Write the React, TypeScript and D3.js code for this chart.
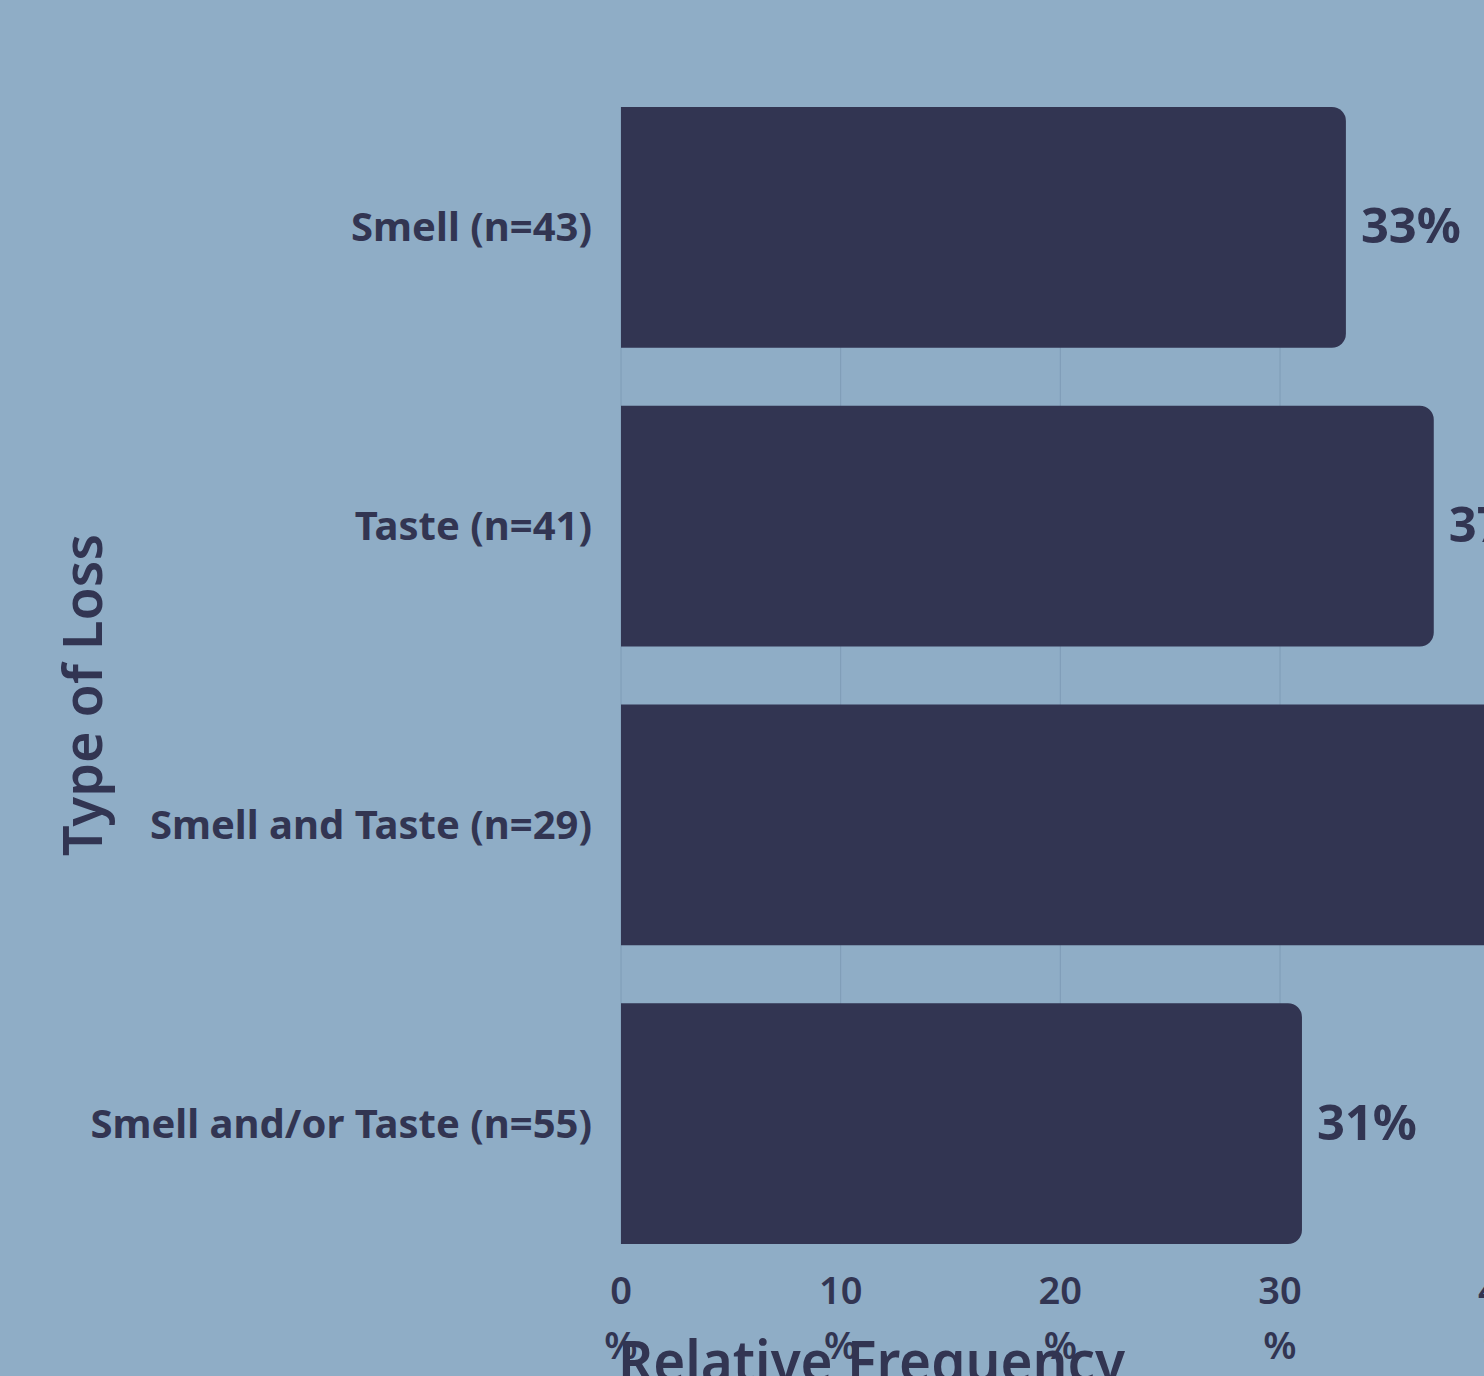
import React from "react";
import * as d3 from "d3";

const categories = ["Smell (n=43)", "Taste (n=41)", "Smell and Taste (n=29)", "Smell and/or Taste (n=55)"];
const values = [33, 37, 45, 31];
const tickValues = [0, 10, 20, 30, 40];
const xAxisTitle = "Relative Frequency";
const yAxisTitle = "Type of Loss";

const W = 1484;
const H = 1376;
const BG = "#8fadc6";
const DARK = "#323552";
const GRID = "#7f9cb6";
const FONT = "'Noto Sans', 'Open Sans', sans-serif";

function barPath(x0: number, x1: number, y0: number, h: number, r: number) {
  const p = d3.path();
  const rr = Math.min(r, (x1 - x0) / 2, h / 2);
  p.moveTo(x0, y0);
  p.lineTo(x1 - rr, y0);
  p.arcTo(x1, y0, x1, y0 + rr, rr);
  p.lineTo(x1, y0 + h - rr);
  p.arcTo(x1, y0 + h, x1 - rr, y0 + h, rr);
  p.lineTo(x0, y0 + h);
  p.closePath();
  return p.toString();
}

export default function App() {
  const x = d3.scaleLinear().domain([0, 30]).range([621, 1280]);
  const y = d3
    .scaleBand<string>()
    .domain(categories)
    .range([78, 1273])
    .paddingInner(0.194)
    .paddingOuter(0.097);
  const bw = y.bandwidth();
  const gridTop = y(categories[0])!;
  const gridBottom = y(categories[categories.length - 1])! + bw;

  return (
    <svg
      width={W}
      height={H}
      style={{ position: "absolute", left: 0, top: 0, display: "block" }}
      fontFamily={FONT}
    >
      <rect x={0} y={0} width={W} height={H} fill={BG} />
      {tickValues.map((t) => (
        <line key={"g" + t} x1={x(t)} x2={x(t)} y1={gridTop} y2={gridBottom} stroke={GRID} strokeWidth={1} />
      ))}
      {categories.map((c, i) => (
        <g key={c}>
          <path d={barPath(x(0), x(values[i]), y(c)!, bw, 14)} fill={DARK} />
          <text
            x={x(values[i]) + 15}
            y={y(c)! + bw / 2 + 16}
            fontSize={48}
            fontWeight={700}
            fill={DARK}
            textLength={100}
            lengthAdjust="spacingAndGlyphs"
          >
            {values[i] + "%"}
          </text>
          <text
            x={592}
            y={y(c)! + bw / 2 + 14}
            fontSize={40}
            fontWeight={700}
            fill={DARK}
            textAnchor="end"
          >
            {c}
          </text>
        </g>
      ))}
      {tickValues.map((t) => (
        <g key={"t" + t}>
          <text x={x(t)} y={1304} fontSize={38} fontWeight={600} fill={DARK} textAnchor="middle">
            {String(t)}
          </text>
          <text x={x(t)} y={1359} fontSize={38} fontWeight={600} fill={DARK} textAnchor="middle">
            %
          </text>
        </g>
      ))}
      <text
        x={618}
        y={1382}
        fontSize={58}
        fontWeight={600}
        fill={DARK}
        textLength={507}
        lengthAdjust="spacingAndGlyphs"
      >
        {xAxisTitle}
      </text>
      <text
        transform={`translate(102,695) rotate(-90)`}
        fontSize={54}
        fontWeight={600}
        fill={DARK}
        textAnchor="middle"
      >
        {yAxisTitle}
      </text>
    </svg>
  );
}
